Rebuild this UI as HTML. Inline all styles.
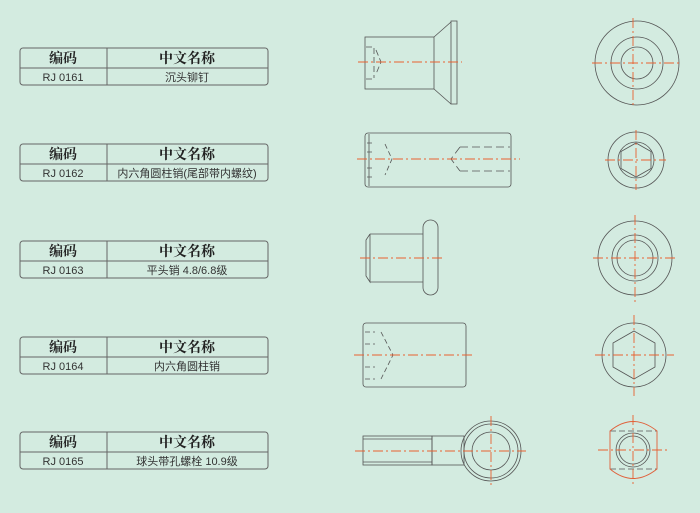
<!DOCTYPE html>
<html><head><meta charset="utf-8"><style>
body{margin:0;width:700px;height:513px;background:#d3ebe0;overflow:hidden}
svg{position:absolute;left:0;top:0}
.h{font-family:"Noto Serif CJK SC","Liberation Serif",serif;font-weight:bold;font-size:14px;fill:#222}
.c{font-family:"Liberation Sans","Noto Sans CJK SC",sans-serif;font-size:11px;fill:#333}
</style></head><body>
<svg width="700" height="513" viewBox="0 0 700 513">
<defs>
<g id="tb">
<rect x="20" y="0" width="248" height="37" rx="3" fill="none" stroke="#666" stroke-width="1"/>
<line x1="20" y1="20" x2="268" y2="20" stroke="#666"/>
<line x1="107" y1="0" x2="107" y2="37" stroke="#666"/>
</g>
</defs>
<g>
<use href="#tb" y="48"/><use href="#tb" y="144"/><use href="#tb" y="241"/><use href="#tb" y="337"/><use href="#tb" y="432"/>
</g>
<g text-anchor="middle">
<text class="h" x="63" y="63">编码</text><text class="h" x="187" y="63">中文名称</text>
<text class="c" x="63" y="81">RJ 0161</text><text class="c" x="187" y="81">沉头铆钉</text>
<text class="h" x="63" y="159">编码</text><text class="h" x="187" y="159">中文名称</text>
<text class="c" x="63" y="177">RJ 0162</text><text class="c" x="187" y="177">内六角圆柱销(尾部带内螺纹)</text>
<text class="h" x="63" y="256">编码</text><text class="h" x="187" y="256">中文名称</text>
<text class="c" x="63" y="274">RJ 0163</text><text class="c" x="187" y="274">平头销 4.8/6.8级</text>
<text class="h" x="63" y="352">编码</text><text class="h" x="187" y="352">中文名称</text>
<text class="c" x="63" y="370">RJ 0164</text><text class="c" x="187" y="370">内六角圆柱销</text>
<text class="h" x="63" y="447">编码</text><text class="h" x="187" y="447">中文名称</text>
<text class="c" x="63" y="465">RJ 0165</text><text class="c" x="187" y="465">球头带孔螺栓 10.9级</text>
</g>
<g fill="none" stroke="#555" stroke-width="0.8">
<rect x="365" y="37" width="69" height="52"/>
<path d="M434 37 L451 22 M434 89 L451 104"/>
<rect x="451" y="21" width="6" height="83"/>
<path d="M374 48 V78 M366 79 H374 M366 47 H374 M376 50 L381 62 L376 74" stroke-dasharray="6 3"/>
<circle cx="637" cy="63" r="42"/><circle cx="637" cy="63" r="26"/><circle cx="637" cy="63" r="16"/>
<rect x="365" y="133" width="146" height="54" rx="3"/>
<path d="M369 134 V186"/>
<path d="M367 143 H375 M367 152 H375 M367 168 H375 M367 177 H375 M385 144 L392 159 L385 175" stroke-dasharray="5 3"/>
<path d="M460 147 H510 M460 171 H510 M460 147 L451 159 L460 171" stroke-dasharray="8 4"/>
<circle cx="636" cy="160" r="28"/><circle cx="636" cy="160" r="18"/>
<polygon points="636,143 651,151.5 651,168.5 636,177 621,168.5 621,151.5"/>
<path d="M370 234 H423 M370 282 H423 M370 234 L366 240 V276 L370 282 V234"/>
<rect x="423" y="220" width="15" height="75" rx="7.5"/>
<circle cx="635" cy="258" r="37"/><circle cx="635" cy="258" r="23"/><circle cx="635" cy="258" r="18"/>
<rect x="363" y="323" width="103" height="64" rx="3"/>
<path d="M365 332 H375 M365 344 H375 M365 367 H375 M365 379 H375 M381 332 L393 355 L381 379" stroke-dasharray="5 3"/>
<circle cx="634" cy="355" r="32"/>
<polygon points="634,331 655,343 655,367 634,379 613,367 613,343"/>
<rect x="363" y="436" width="69" height="29"/>
<path d="M363 439 H432 M363 462 H432"/>
<rect x="432" y="436" width="32" height="29"/>
<circle cx="491" cy="451" r="30"/><circle cx="491" cy="451" r="27"/><circle cx="491" cy="451" r="19"/>
<circle cx="633" cy="450" r="17"/><circle cx="633" cy="450" r="14"/>
<path d="M610 431 H657 M610 469 H657" stroke-dasharray="6 3"/>
</g>
<path d="M610 431 Q633 412 657 431 V469 Q633 488 610 469 Z" fill="none" stroke="#e0603a" stroke-width="0.9"/>
<g stroke="#e8602f" stroke-width="0.9" stroke-dasharray="10 3 2 3" fill="none">
<path d="M358 62 H462 M633 18 V108 M592 63 H682"/>
<path d="M357 159 H520 M636 130 V190 M605 160 H666"/>
<path d="M360 258 H443 M635 215 V302 M593 258 H677"/>
<path d="M354 355 H472 M634 315 V396 M595 355 H674"/>
<path d="M355 451 H526 M491 416 V486 M598 450 H667 M633 415 V486"/>
</g>
</svg>
</body></html>
